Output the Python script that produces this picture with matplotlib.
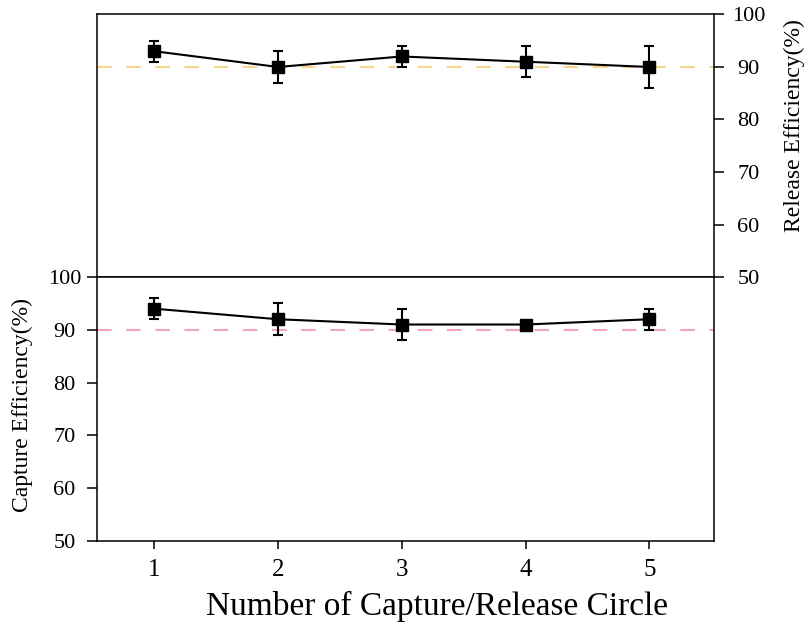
import matplotlib
matplotlib.use("Agg")
import matplotlib.pyplot as plt

plt.rcParams["font.family"] = ["Liberation Serif", "DejaVu Serif"]

cycles = [1, 2, 3, 4, 5]
release = [93, 90, 92, 91, 90]
release_err = [2, 3, 2, 3, 4]
capture = [94, 92, 91, 91, 92]
capture_err = [2, 3, 3, 0.5, 2]
yticks = [50, 60, 70, 80, 90, 100]

fig = plt.figure(figsize=(8.1, 6.29), dpi=100)
ax_top = fig.add_axes([0.12, 0.5596, 0.762, 0.4174])
ax_bot = fig.add_axes([0.12, 0.140, 0.762, 0.4196])

err_kw = dict(color="black", lw=1.5, marker="s", markersize=8,
              elinewidth=1.5, capsize=3.5, capthick=1.5, zorder=3)

# release (top panel, right axis)
ax_top.axhline(90, color="#f3d68c", lw=1.5, ls=(0, (7, 7)), zorder=1)
ax_top.errorbar(cycles, release, yerr=release_err, **err_kw)
ax_top.set_ylim(50, 100)
ax_top.set_yticks(yticks)
ax_top.yaxis.tick_right()
ax_top.yaxis.set_label_position("right")
ax_top.set_ylabel("Release Efficiency(%)", fontsize=17, rotation=90)
ax_top.yaxis.set_label_coords(1.112, 0.575)
ax_top.tick_params(axis="y", direction="out", length=7, width=1.1,
                   labelsize=16, pad=17.5, left=False)
ax_top.tick_params(axis="x", bottom=False, labelbottom=False)
for lab in ax_top.get_yticklabels():
    lab.set_horizontalalignment("center")

# capture (bottom panel, left axis)
ax_bot.axhline(90, color="#f4a3c0", lw=1.5, ls=(0, (7, 7)), zorder=1)
ax_bot.errorbar(cycles, capture, yerr=capture_err, **err_kw)
ax_bot.set_ylim(50, 100)
ax_bot.set_yticks(yticks)
ax_bot.set_ylabel("Capture Efficiency(%)", fontsize=17)
ax_bot.yaxis.set_label_coords(-0.104, 0.515)
ax_bot.tick_params(axis="y", direction="out", length=7, width=1.1,
                   labelsize=16, pad=16.5, right=False)
for lab in ax_bot.get_yticklabels():
    lab.set_horizontalalignment("center")
ax_bot.set_xticks(cycles)
ax_bot.tick_params(axis="x", direction="out", length=6, width=1.1,
                   labelsize=18, pad=7, top=False)
ax_bot.set_xlabel("Number of Capture/Release Circle", fontsize=24)
ax_bot.xaxis.set_label_coords(0.55, -0.19)

for ax in (ax_top, ax_bot):
    ax.set_xlim(0.54, 5.525)
    for sp in ax.spines.values():
        sp.set_linewidth(1.1)

fig.savefig("out.png", dpi=100)
